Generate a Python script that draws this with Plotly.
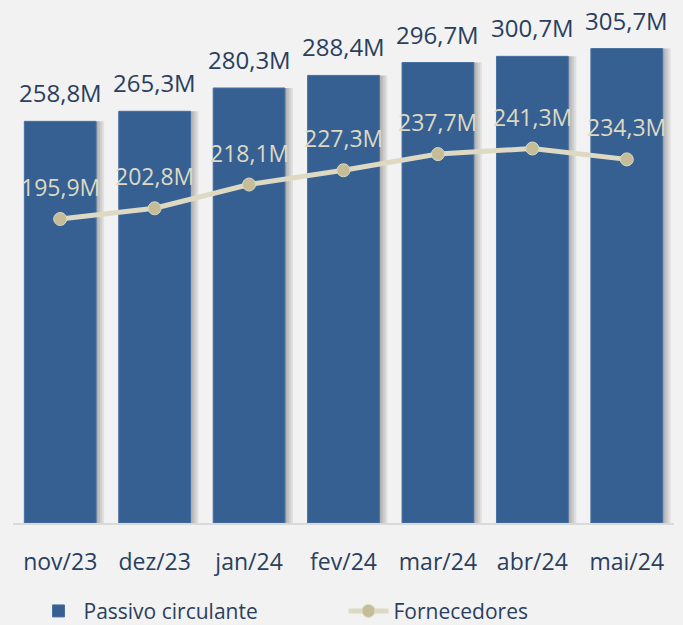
import plotly.graph_objects as go

# dados do gráfico
meses = ["nov/23", "dez/23", "jan/24", "fev/24", "mar/24", "abr/24", "mai/24"]
passivo_circulante = [258.8, 265.3, 280.3, 288.4, 296.7, 300.7, 305.7]
fornecedores = [195.9, 202.8, 218.1, 227.3, 237.7, 241.3, 234.3]

fonte = "Open Sans"
azul = "#366092"
bege = "#ddd9c3"
bege_escuro = "#c4bd97"
texto = "#2a3f5e"

largura = 0.76  # largura das barras (unidades de categoria)


def rotulo(v):
    return f"{v:.1f}".replace(".", ",") + "M"


fig = go.Figure()

# sombra suave à direita das barras (camadas semi-transparentes)
for extra in [0.085, 0.064, 0.042, 0.021]:
    fig.add_trace(go.Bar(
        x=meses, y=passivo_circulante, showlegend=False,
        width=largura + extra, offset=-largura / 2,
        marker=dict(color="rgba(0,0,0,0.075)", line=dict(width=0)),
        hoverinfo="skip",
    ))

fig.add_trace(go.Bar(
    x=meses, y=passivo_circulante, name="Passivo circulante",
    width=largura, offset=-largura / 2,
    marker=dict(color=azul, line=dict(color="#4a70a0", width=1)),
    hoverinfo="skip",
))

fig.add_trace(go.Scatter(
    x=meses, y=fornecedores, name="Fornecedores",
    mode="lines+markers",
    line=dict(color=bege, width=5),
    marker=dict(color=bege_escuro, size=13, line=dict(color=bege, width=1)),
    hoverinfo="skip",
))

# rótulos das barras e da linha
for m, v in zip(meses, passivo_circulante):
    fig.add_annotation(x=m, y=v, text=rotulo(v), showarrow=False,
                       yanchor="bottom", yshift=10,
                       font=dict(family=fonte, size=24, color=texto))
for m, v in zip(meses, fornecedores):
    fig.add_annotation(x=m, y=v, text=rotulo(v), showarrow=False,
                       yanchor="bottom", yshift=14,
                       font=dict(family=fonte, size=23, color=bege))

fig.update_layout(
    width=683, height=625,
    paper_bgcolor="#f2f2f2", plot_bgcolor="#f2f2f2",
    margin=dict(l=13, r=9, t=0, b=102),
    barmode="overlay",
    showlegend=True,
    legend=dict(orientation="h", x=0.5, xanchor="center",
                yref="container", y=0.022, yanchor="middle",
                font=dict(family=fonte, size=21, color=texto),
                itemwidth=40, entrywidth=255, entrywidthmode="pixels",
                traceorder="normal", bgcolor="rgba(0,0,0,0)"),
    font=dict(family=fonte),
)
fig.update_xaxes(showline=True, linecolor="#d9d9d9", linewidth=2,
                 showgrid=False, ticks="", ticklabelstandoff=17,
                 tickfont=dict(family=fonte, size=23, color=texto))
fig.update_yaxes(range=[0, 337], visible=False, showgrid=False)

# tira a margem padrão do body para o gráfico ocupar a janela toda
fig.write_html("out.html", config={"displayModeBar": False},
               post_script="document.body.style.margin='0';document.body.style.background='#f2f2f2';")
